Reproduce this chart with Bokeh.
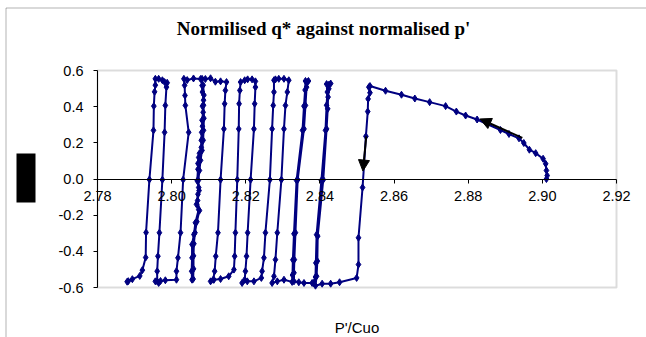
from bokeh.plotting import figure
from bokeh.models import (Range1d, FixedTicker, NumeralTickFormatter, Label,
                          Arrow, NormalHead, BoxAnnotation)
from bokeh.embed import file_html
from bokeh.resources import INLINE

title_text = "Normilised q* against normalised p'"
x_title = "P'/Cuo"
x_ticks = [2.78, 2.80, 2.82, 2.84, 2.86, 2.88, 2.90, 2.92]
y_ticks = [-0.6, -0.4, -0.2, 0.0, 0.2, 0.4, 0.6]
x_min, x_max = 2.78, 2.92
y_min, y_max = -0.6, 0.6

# monotonic loading (p' falls as q* rises)
mono_p = [2.9011, 2.9013, 2.9011, 2.9009, 2.9002, 2.8982, 2.8965, 2.8950, 2.8937, 2.8910,
          2.8887, 2.8824, 2.8793, 2.8768, 2.8739, 2.8696, 2.8656, 2.8620, 2.8577, 2.8535]
mono_q = [0.000, 0.019, 0.047, 0.084, 0.112, 0.143, 0.162, 0.199, 0.225, 0.249,
          0.271, 0.329, 0.351, 0.373, 0.403, 0.425, 0.445, 0.466, 0.488, 0.514]

# first unloading
drop_p = [2.8532, 2.8535, 2.8530, 2.8529, 2.8524, 2.8515, 2.8504, 2.8504, 2.8499, 2.8453,
          2.8429, 2.8406, 2.8388]
drop_q = [0.508, 0.477, 0.443, 0.373, 0.236, -0.047, -0.325, -0.473, -0.547, -0.571,
          -0.579, -0.579, -0.590]

# cycles
cyc1_p = [2.8391, 2.8393, 2.8394, 2.8409, 2.8418, 2.8421, 2.8422, 2.8424, 2.8424, 2.8429,
          2.8418, 2.8420, 2.8418, 2.8415, 2.8404, 2.8391, 2.8389, 2.8388, 2.8383, 2.8379,
          2.8357, 2.8343]
cyc1_q = [-0.538, -0.454, -0.316, -0.004, 0.277, 0.388, 0.453, 0.499, 0.521, 0.528,
          0.525, 0.481, 0.408, 0.269, -0.008, -0.308, -0.464, -0.542, -0.575, -0.575,
          -0.575, -0.571]

cyc2_p = [2.8330, 2.8330, 2.8331, 2.8334, 2.8340, 2.8357, 2.8361, 2.8364, 2.8366, 2.8369,
          2.8361, 2.8360, 2.8357, 2.8353, 2.8337, 2.8330, 2.8327, 2.8326, 2.8325, 2.8303,
          2.8285, 2.8271]
cyc2_q = [-0.566, -0.519, -0.446, -0.297, -0.004, 0.277, 0.407, 0.508, 0.536, 0.542,
          0.542, 0.492, 0.403, 0.269, -0.008, -0.303, -0.447, -0.531, -0.569, -0.557,
          -0.566, -0.575]

cyc3_p = [2.8276, 2.8280, 2.8285, 2.8296, 2.8303, 2.8307, 2.8312, 2.8316,
          2.8303, 2.8289, 2.8280, 2.8276,
          2.8276, 2.8274, 2.8271, 2.8265, 2.8253, 2.8249, 2.8244, 2.8242,
          2.8222, 2.8204, 2.8190]
cyc3_q = [-0.538, -0.446, -0.297, -0.004, 0.277, 0.407, 0.481, 0.546,
          0.554, 0.554, 0.551, 0.546,
          0.481, 0.407, 0.277, -0.004, -0.297, -0.436, -0.510, -0.547,
          -0.566, -0.566, -0.575]

cyc4_p = [2.8197, 2.8199, 2.8202, 2.8205, 2.8213, 2.8222, 2.8224, 2.8226, 2.8226,
          2.8217, 2.8205, 2.8197, 2.8186,
          2.8184, 2.8182, 2.8181, 2.8177, 2.8172, 2.8170, 2.8168,
          2.8154, 2.8132, 2.8114, 2.8105]
cyc4_q = [-0.557, -0.510, -0.427, -0.297, -0.004, 0.277, 0.416, 0.508, 0.540,
          0.551, 0.551, 0.546, 0.536,
          0.490, 0.416, 0.277, -0.004, -0.297, -0.427, -0.501,
          -0.538, -0.553, -0.557, -0.566]

cyc5_p = [2.8112, 2.8116, 2.8119, 2.8125, 2.8132, 2.8141, 2.8143, 2.8145, 2.8148,
          2.8132, 2.8118, 2.8105, 2.8091, 2.8082,
          2.8082, 2.8083, 2.8086, 2.8083, 2.8085, 2.8082, 2.8083, 2.8081, 2.8080, 2.8080,
          2.8075, 2.8073, 2.8071, 2.8071, 2.8069,
          2.8073, 2.8071, 2.8067, 2.8073, 2.8064, 2.8060, 2.8055, 2.8055, 2.8054, 2.8055]
cyc5_q = [-0.557, -0.510, -0.427, -0.297, -0.004, 0.277, 0.416, 0.490, 0.536,
          0.540, 0.538, 0.557, 0.553, 0.554,
          0.517, 0.481, 0.436, 0.403, 0.369, 0.325, 0.292, 0.258, 0.214, 0.175,
          0.142, 0.119, 0.086, 0.054, -0.010,
          -0.047, -0.084, -0.140, -0.168, -0.242, -0.307, -0.362, -0.436, -0.510, -0.557]

cyc6_p = [2.8058, 2.8059, 2.8059, 2.8060, 2.8063, 2.8068, 2.8075, 2.8070, 2.8074, 2.8072,
          2.8075, 2.8078, 2.8082, 2.8085, 2.8086, 2.8087, 2.8086, 2.8087, 2.8085, 2.8078,
          2.8059, 2.8042, 2.8033,
          2.8035, 2.8036, 2.8037, 2.8046, 2.8031, 2.8024, 2.8017, 2.8013, 2.8013,
          2.7983, 2.7970, 2.7965, 2.7956]
cyc6_q = [-0.553, -0.497, -0.425, -0.358, -0.297, -0.236, -0.175, -0.119, -0.064, -0.008,
          0.047, 0.103, 0.158, 0.214, 0.269, 0.336, 0.408, 0.464, 0.519, 0.553,
          0.556, 0.547, 0.554,
          0.518, 0.462, 0.407, 0.258, -0.004, -0.297, -0.436, -0.510, -0.557,
          -0.560, -0.564, -0.575, -0.566]

cyc7_p = [2.7961, 2.7961, 2.7963, 2.7967, 2.7975, 2.7981, 2.7983, 2.7986, 2.7988,
          2.7981, 2.7975, 2.7965, 2.7956,
          2.7956, 2.7954, 2.7952, 2.7951, 2.7940,
          2.7931, 2.7930, 2.7921, 2.7914, 2.7894, 2.7880, 2.7883]
cyc7_q = [-0.566, -0.510, -0.427, -0.297, -0.004, 0.258, 0.407, 0.508, 0.532,
          0.536, 0.546, 0.554, 0.554,
          0.519, 0.482, 0.403, 0.269, -0.003,
          -0.296, -0.434, -0.504, -0.536, -0.554, -0.568, -0.565]

# direction arrows (data coordinates)
arrow1 = dict(x_start=2.8946, y_start=0.227, x_end=2.8832, y_end=0.332)
arrow2 = dict(x_start=2.8525, y_start=0.236, x_end=2.8516, y_end=0.044)

all_p = mono_p + drop_p + cyc1_p + cyc2_p + cyc3_p + cyc4_p + cyc5_p + cyc6_p + cyc7_p
all_q = mono_q + drop_q + cyc1_q + cyc2_q + cyc3_q + cyc4_q + cyc5_q + cyc6_q + cyc7_q

# ---- layout (pixels) ----
W, H = 646, 337
PA_L, PA_T, PA_R, PA_B = 97, 70, 616, 287      # plot area in canvas pixels
sx = (PA_R - PA_L) / (x_max - x_min)
sy = (PA_B - PA_T) / (y_max - y_min)
xr = Range1d(x_min - PA_L / sx, x_max + (W - PA_R) / sx)
yr = Range1d(y_min - (H - PA_B) / sy, y_max + PA_T / sy)

p = figure(width=W, height=H, output_backend="svg", toolbar_location=None,
           x_range=xr, y_range=yr,
           min_border_left=0, min_border_right=0, min_border_top=0, min_border_bottom=0)
p.background_fill_color = "white"
p.border_fill_color = "white"
p.grid.visible = False
p.outline_line_color = None

# plot-area frame (gray)
p.add_layout(BoxAnnotation(left=x_min, right=x_max, bottom=y_min, top=y_max,
                           fill_alpha=0, line_color="#8c8c8c", line_width=2,
                           level="underlay"))

line_color = "#000080"
p.line(all_p, all_q, line_color=line_color, line_width=2)
p.scatter(all_p, all_q, marker="diamond", size=7, color=line_color)

for a in (arrow1, arrow2):
    p.add_layout(Arrow(end=NormalHead(size=11, fill_color="black", line_color="black"),
                       line_color="black", line_width=2, **a))

font = "Liberation Sans"
xa = p.xaxis[0]
xa.fixed_location = 0
xa.bounds = (x_min, x_max)
xa.ticker = FixedTicker(ticks=x_ticks)
xa.formatter = NumeralTickFormatter(format="0.00")
xa.minor_tick_line_color = None
xa.major_tick_in = 0
xa.major_tick_out = 4
xa.major_label_standoff = 8
xa.axis_line_color = "black"
xa.major_tick_line_color = "black"
xa.major_label_text_font = font
xa.major_label_text_font_size = "14.5px"
xa.major_label_text_color = "black"

ya = p.yaxis[0]
ya.fixed_location = x_min
ya.bounds = (y_min, y_max)
ya.ticker = FixedTicker(ticks=y_ticks)
ya.formatter = NumeralTickFormatter(format="0.0")
ya.minor_tick_line_color = None
ya.major_tick_in = 0
ya.major_tick_out = 4
ya.major_label_standoff = 10
ya.axis_line_color = "black"
ya.major_tick_line_color = "black"
ya.major_label_text_font = font
ya.major_label_text_font_size = "14.5px"
ya.major_label_text_color = "black"

# chart-area border (left and top visible)
p.add_layout(BoxAnnotation(left=5.5, right=W + 50, top=H - 7.5, bottom=-50,
                           left_units="screen", right_units="screen",
                           top_units="screen", bottom_units="screen",
                           fill_alpha=0, line_color="black", line_width=1))
# black block where the y-axis title sits
p.add_layout(BoxAnnotation(left=16, right=35, top=H - 153, bottom=H - 202,
                           left_units="screen", right_units="screen",
                           top_units="screen", bottom_units="screen",
                           fill_color="black", fill_alpha=1, line_alpha=0))

p.add_layout(Label(x=323, y=H - 28, x_units="screen", y_units="screen",
                   text=title_text, text_align="center", text_baseline="middle",
                   text_font="Liberation Serif", text_font_style="bold",
                   text_font_size="19px", text_color="black"))
p.add_layout(Label(x=(PA_L + PA_R) / 2, y=H - 327,
                   x_units="screen", y_units="screen",
                   text=x_title, text_align="center", text_baseline="middle",
                   text_font=font, text_font_size="15px", text_color="black"))

open("out.html", "w").write(file_html(p, INLINE))
